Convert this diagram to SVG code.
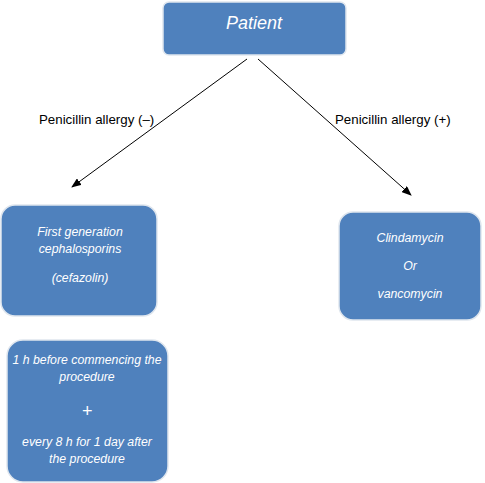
<svg xmlns="http://www.w3.org/2000/svg" width="485" height="483" viewBox="0 0 485 483">
<style>
.box{fill:#4f81bd;stroke:#dfe6ee;stroke-width:1.5}
.t{font-family:"Liberation Sans",Arial,sans-serif;font-style:italic;fill:#ffffff;font-size:12.3px;text-anchor:middle}
.lbl{font-family:"Liberation Sans",Arial,sans-serif;fill:#000000;font-size:13.3px}
.c{stroke:#000;stroke-width:1;fill:none;marker-end:url(#ah)}
</style>
<defs>
<marker id="ah" markerWidth="10" markerHeight="8" refX="9" refY="4" orient="auto" markerUnits="userSpaceOnUse">
<path d="M0,0 L10,4 L0,8 z" fill="#000"/>
</marker>
</defs>
<rect width="485" height="483" fill="#ffffff"/>
<g id="connectors">
<line class="c" x1="247" y1="59" x2="72" y2="187"/>
<line class="c" x1="258" y1="59" x2="411" y2="195"/>
<text class="lbl" x="39" y="124">Penicillin allergy (–)</text>
<text class="lbl" x="335" y="124">Penicillin allergy (+)</text>
</g>
<g id="patient">
<rect class="box" x="163" y="2" width="183" height="53" rx="6"/>
<text class="t" x="254" y="29" style="font-size:18px">Patient</text>
</g>
<g id="cephalosporins">
<rect class="box" x="1" y="205" width="156" height="111" rx="14"/>
<text class="t" x="80" y="236">First generation</text>
<text class="t" x="80" y="253">cephalosporins</text>
<text class="t" x="80" y="282">(cefazolin)</text>
</g>
<g id="clindamycin">
<rect class="box" x="339" y="212" width="142" height="108" rx="14"/>
<text class="t" x="410" y="242">Clindamycin</text>
<text class="t" x="410" y="270">Or</text>
<text class="t" x="410" y="298">vancomycin</text>
</g>
<g id="timing">
<rect class="box" x="7" y="340" width="161" height="142" rx="16"/>
<text class="t" x="87" y="364">1 h before commencing the</text>
<text class="t" x="87" y="381">procedure</text>
<text class="t" x="87" y="417" style="font-size:18px">+</text>
<text class="t" x="87" y="446">every 8 h for 1 day after</text>
<text class="t" x="87" y="463">the procedure</text>
</g>
</svg>
